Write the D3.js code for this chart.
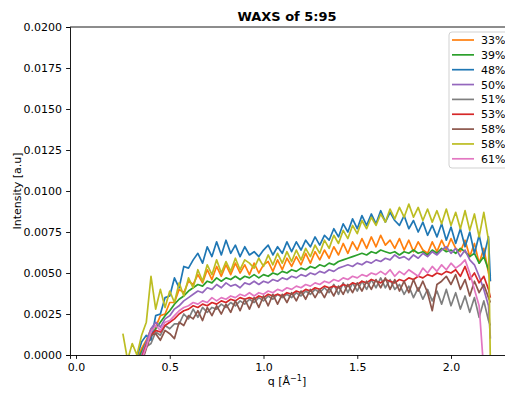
<!DOCTYPE html>
<html>
<head>
<meta charset="utf-8">
<script src="https://d3js.org/d3.v7.min.js"></script>
<style>
  body { margin: 0; background: #fff; }
  svg text { font-family: "DejaVu Sans", sans-serif; fill: #000; }
</style>
</head>
<body>
<svg id="chart" width="505" height="393"></svg>
<script>
// q grid [1/Å] shared by every curve
const qs = [0.25, 0.275, 0.3, 0.325, 0.35, 0.375, 0.4, 0.425, 0.45, 0.475,
  0.5, 0.525, 0.55, 0.575, 0.6, 0.625, 0.65, 0.675, 0.7, 0.725,
  0.75, 0.775, 0.8, 0.825, 0.85, 0.875, 0.9, 0.925, 0.95, 0.975,
  1.0, 1.025, 1.05, 1.075, 1.1, 1.125, 1.15, 1.175, 1.2, 1.225,
  1.25, 1.275, 1.3, 1.325, 1.35, 1.375, 1.4, 1.425, 1.45, 1.475,
  1.5, 1.525, 1.55, 1.575, 1.6, 1.625, 1.65, 1.675, 1.7, 1.725,
  1.75, 1.775, 1.8, 1.825, 1.85, 1.875, 1.9, 1.925, 1.95, 1.975,
  2.0, 2.025, 2.05, 2.075, 2.1, 2.125, 2.15, 2.175, 2.2, 2.21];

// intensities in units of 1e-4 (null = no data)
const s33 = [null, null, null, -3, 4, 9, 16, 17, 24, 25,
  32, 32, 40, 38, 45, 43, 49, 44, 52, 46,
  54, 48, 55, 49, 56, 50, 55, 49, 56, 50,
  55, 57, 51, 58, 52, 59, 54, 60, 55, 62,
  56, 63, 58, 64, 59, 66, 61, 68, 62, 69,
  64, 71, 65, 72, 66, 73, 67, 70, 65, 71,
  64, 70, 63, 69, 64, 62, 69, 63, 70, 64,
  71, 65, 63, 70, 60, 68, 56, 65, 50, 45];
const s39 = [null, null, null, -4, 2, 8, 12, 16, 20, 24,
  27, 31, 34, 36, 39, 41, 43, 42, 45, 44,
  47, 45, 47, 46, 48, 46, 48, 47, 49, 47,
  49, 48, 50, 49, 51, 50, 52, 51, 53, 52,
  54, 53, 55, 54, 56, 55, 57, 58, 59, 60,
  61, 62, 61, 63, 62, 64, 63, 62, 63, 61,
  63, 62, 64, 62, 63, 61, 64, 62, 65, 63,
  64, 62, 65, 63, 60, 62, 56, 60, 52, 48];
const s48 = [null, null, null, -1, 8, 12, 9, 24, 25, 35,
  36, 47, 41, 54, 53, 58, 62, 56, 66, 60,
  69, 61, 70, 62, 67, 60, 66, 61, 63, 60,
  64, 67, 61, 66, 62, 69, 63, 69, 64, 70,
  66, 72, 67, 73, 70, 77, 72, 80, 75, 83,
  77, 85, 79, 86, 80, 88, 81, 87, 82, 79,
  85, 77, 82, 75, 81, 73, 79, 72, 80, 70,
  78, 68, 77, 66, 75, 62, 73, 60, 72, 45];
const s50 = [null, null, null, -5, 0, 8, 16, 20, 17, 22,
  24, 28, 30, 33, 35, 37, 39, 38, 41, 40,
  43, 41, 44, 42, 43, 41, 44, 43, 45, 43,
  45, 44, 46, 45, 47, 46, 48, 47, 49, 48,
  50, 49, 51, 50, 52, 51, 53, 54, 55, 54,
  56, 55, 57, 56, 58, 57, 59, 58, 61, 59,
  60, 58, 61, 59, 62, 60, 63, 61, 64, 66,
  62, 65, 60, 64, 58, 55, 48, 40, 30, 10];
const s51 = [null, null, null, null, -3, 5, 7, 14, 12, 18,
  16, 19, 19, 25, 22, 28, 23, 29, 26, 29,
  28, 31, 29, 32, 30, 33, 31, 34, 32, 35,
  33, 36, 34, 37, 35, 37, 35, 38, 36, 39,
  37, 40, 38, 41, 38, 43, 37, 44, 38, 44,
  39, 45, 40, 46, 41, 47, 41, 46, 40, 43,
  37, 42, 35, 41, 34, 40, 33, 39, 31, 40,
  30, 38, 28, 36, 26, 35, 23, 33, 21, 18];
const s53 = [null, null, null, null, -2, 6, 12, 15, 14, 18,
  20, 22, 25, 27, 28, 30, 29, 31, 30, 32,
  31, 33, 32, 34, 33, 35, 34, 35, 34, 36,
  35, 37, 36, 37, 36, 38, 37, 39, 38, 40,
  39, 41, 40, 42, 41, 42, 41, 43, 42, 44,
  43, 45, 44, 46, 45, 44, 46, 45, 44, 46,
  45, 47, 46, 48, 47, 49, 48, 50, 49, 51,
  50, 52, 48, 54, 46, 50, 44, 48, 40, 35];
const s58a = [null, null, null, null, -5, 4, 12, 13, 9, 15,
  13, 10, 20, 18, 24, 22, 27, 21, 29, 24,
  30, 25, 31, 26, 33, 27, 34, 28, 35, 29,
  36, 30, 37, 31, 37, 32, 38, 33, 39, 34,
  40, 35, 40, 35, 41, 36, 42, 37, 43, 38,
  44, 39, 45, 40, 46, 41, 47, 40, 46, 39,
  45, 38, 46, 39, 45, 38, 27, 43, 45, 48,
  43, 49, 40, 46, 36, 45, 38, 43, 35, 32];
const s58b = [13, -3, 7, 0, 12, 20, 48, 28, 40, 29,
  39, 32, 44, 36, 47, 41, 52, 45, 55, 49,
  58, 50, 57, 51, 59, 52, 58, 56, 53, 59,
  54, 61, 55, 62, 56, 63, 57, 64, 58, 65,
  60, 67, 62, 70, 65, 73, 68, 76, 71, 79,
  74, 82, 77, 84, 79, 86, 81, 89, 83, 90,
  84, 92, 84, 90, 82, 89, 81, 88, 80, 89,
  79, 87, 77, 88, 76, 86, 72, 87, 70, -5];
const s61 = [null, null, null, null, -3, 5, 14, 18, 15, 20,
  21, 24, 27, 29, 30, 32, 31, 33, 32, 35,
  33, 35, 34, 36, 35, 37, 36, 38, 36, 38,
  37, 39, 38, 40, 39, 41, 40, 42, 41, 43,
  42, 44, 43, 45, 44, 46, 45, 47, 46, 48,
  47, 49, 48, 50, 49, 51, 49, 52, 48, 51,
  49, 52, 50, 48, 53, 50, 54, 51, 55, 52,
  56, 53, 55, 58, 50, 40, 30, -10, null, null];

const labels = ["33%", "39%", "48%", "50%", "51%", "53%", "58%", "58%", "61%"];
const colors = ["#ff7f0e", "#2ca02c", "#1f77b4", "#9467bd", "#7f7f7f", "#d62728", "#8c564b", "#bcbd22", "#e377c2"];
const seriesList = [s33, s39, s48, s50, s51, s53, s58a, s58b, s61];

const xTicks = [0, 0.5, 1.0, 1.5, 2.0];
const yTicks = [0, 0.0025, 0.005, 0.0075, 0.01, 0.0125, 0.015, 0.0175, 0.02];

const svg = d3.select("#chart");
const mLeft = 70, mRight = 511, mTop = 27, mBottom = 355;

const x = d3.scaleLinear().domain([-0.032, 2.32]).range([mLeft, mRight]);
const y = d3.scaleLinear().domain([0, 0.02]).range([mBottom, mTop]);

svg.append("defs").append("clipPath").attr("id", "clip")
  .append("rect").attr("x", mLeft).attr("y", mTop)
  .attr("width", mRight - mLeft).attr("height", mBottom - mTop);

const line = d3.line()
  .defined(d => d[1] !== null)
  .x(d => x(d[0]))
  .y(d => y(d[1] * 1e-4));

const plot = svg.append("g").attr("clip-path", "url(#clip)");
seriesList.forEach((vals, i) => {
  plot.append("path")
    .datum(qs.map((q, k) => [q, vals[k]]))
    .attr("fill", "none")
    .attr("stroke", colors[i])
    .attr("stroke-width", 1.7)
    .attr("stroke-linejoin", "round")
    .attr("d", line);
});

// axes
const xAxis = svg.append("g").attr("transform", `translate(0,${mBottom})`)
  .call(d3.axisBottom(x).tickValues(xTicks).tickFormat(d3.format(".1f")).tickSizeOuter(0).tickSize(3.9).tickPadding(4));
const yAxis = svg.append("g").attr("transform", `translate(${mLeft},0)`)
  .call(d3.axisLeft(y).tickValues(yTicks).tickFormat(d3.format(".4f")).tickSizeOuter(0).tickSize(3.9).tickPadding(4));
[xAxis, yAxis].forEach(a => {
  a.selectAll("text").style("font-size", "11px").attr("fill", "#000");
  a.selectAll("line").attr("stroke", "#000").attr("stroke-width", 0.9);
  a.select(".domain").attr("stroke", "#000").attr("stroke-width", 0.9);
});
// top spine
svg.append("line").attr("x1", mLeft).attr("x2", mRight).attr("y1", mTop).attr("y2", mTop)
  .attr("stroke", "#000").attr("stroke-width", 0.9);

// title and labels
svg.append("text").attr("x", (mLeft + 504) / 2).attr("y", 21)
  .attr("text-anchor", "middle").style("font-size", "13px").style("font-weight", "bold")
  .text("WAXS of 5:95");
svg.append("text").attr("x", 287).attr("y", 385)
  .attr("text-anchor", "middle").style("font-size", "11px")
  .html("q [Å<tspan dy='-4' font-size='8px'>−1</tspan><tspan dy='4'>]</tspan>");
svg.append("text").attr("transform", "translate(21,191) rotate(-90)")
  .attr("text-anchor", "middle").style("font-size", "11px")
  .text("Intensity [a.u]");

// legend
const lg = svg.append("g");
lg.append("rect").attr("x", 449).attr("y", 32).attr("width", 70).attr("height", 136)
  .attr("rx", 3).attr("fill", "#fff").attr("fill-opacity", 0.8)
  .attr("stroke", "#ccc").attr("stroke-width", 0.9);
labels.forEach((lab, i) => {
  const cy = 40 + i * 14.85;
  lg.append("line").attr("x1", 452).attr("x2", 474).attr("y1", cy).attr("y2", cy)
    .attr("stroke", colors[i]).attr("stroke-width", 1.7);
  lg.append("text").attr("x", 481).attr("y", cy + 4).style("font-size", "11px").text(lab);
});
</script>
</body>
</html>
